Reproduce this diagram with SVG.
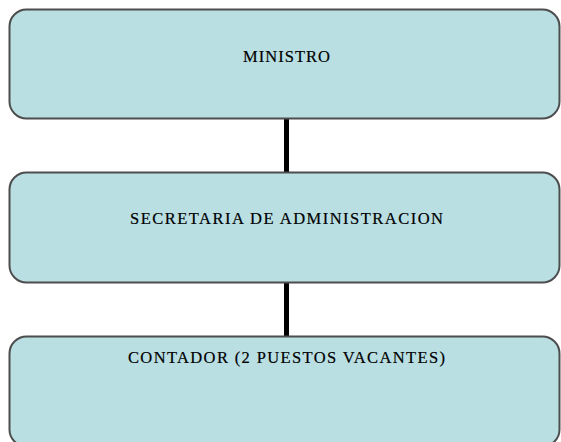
<svg xmlns="http://www.w3.org/2000/svg" width="561" height="442" viewBox="0 0 561 442">
<style>
.box{fill:#b9dfe3;stroke:#4d4d4d;stroke-width:2}
.lbl{font-family:"Liberation Serif","DejaVu Serif",serif;font-size:16.5px;fill:#000;stroke:#000;stroke-width:0.2;text-anchor:start}
.conn{stroke:#000;stroke-width:5;fill:none}
</style>
<rect width="561" height="442" fill="#fff"/>
<g id="connectors">
<line class="conn" x1="286.5" y1="118" x2="286.5" y2="173"/>
<line class="conn" x1="286.5" y1="282" x2="286.5" y2="337"/>
</g>
<g id="ministro">
<rect class="box" x="9.5" y="9.5" width="550" height="109" rx="17"/>
<text class="lbl" x="243" y="62" textLength="87" lengthAdjust="spacing">MINISTRO</text>
</g>
<g id="secretaria">
<rect class="box" x="9.5" y="172.5" width="550" height="110" rx="17"/>
<text class="lbl" x="130" y="224" textLength="313" lengthAdjust="spacing">SECRETARIA DE ADMINISTRACION</text>
</g>
<g id="contador">
<rect class="box" x="9.5" y="336.5" width="550" height="110" rx="17"/>
<text class="lbl" x="128" y="363" textLength="317" lengthAdjust="spacing">CONTADOR (2 PUESTOS VACANTES)</text>
</g>
</svg>
